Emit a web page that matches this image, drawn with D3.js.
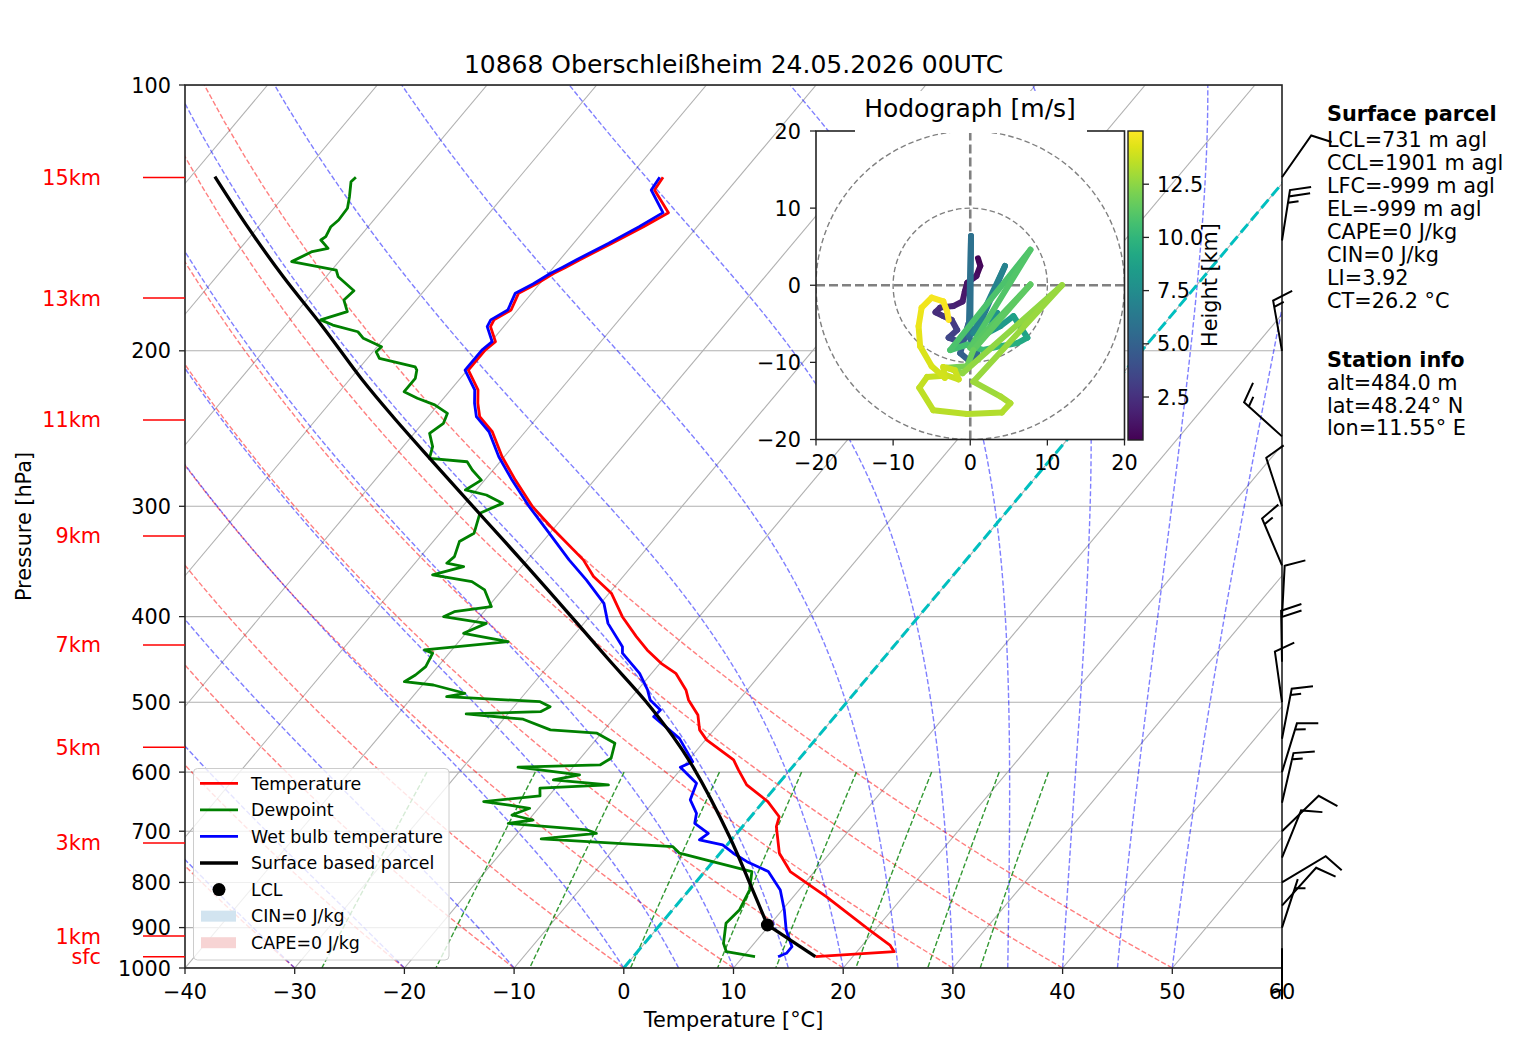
<!DOCTYPE html>
<html>
<head>
<meta charset="utf-8">
<script src="https://cdn.jsdelivr.net/npm/d3@7"></script>
<style>
  body { margin: 0; background: #fff; }
  svg { display: block; font-family: "DejaVu Sans", sans-serif; }
</style>
</head>
<body>
<script>
// ---- sounding values (pressure hPa, temperature °C) ----
const tempP = [971.0, 958.4, 941.8, 905.7, 830.3, 777.7, 741.3, 691.8, 674.1, 647.9, 620.4, 596.6, 581.3, 551.7, 537.5, 516.9, 497.1, 484.3, 463.7, 451.8, 436.3, 421.4, 400.1, 376.3, 360.3, 345.0, 316.4, 300.3, 280.2, 263.6, 247.0, 237.5, 229.3, 221.5, 210.3, 199.6, 195.3, 187.8, 184.5, 179.8, 172.1, 168.0, 163.4, 160.9, 157.8, 151.1, 144.7, 139.5, 131.5, 127.2];
const tempT = [16.6, 23.4, 22.5, 19.5, 13.0, 7.8, 5.4, 3.1, 2.6, 0.4, -2.8, -4.7, -5.9, -9.9, -11.3, -12.6, -14.6, -15.6, -17.8, -19.9, -22.2, -24.2, -27.0, -29.8, -32.7, -34.9, -40.4, -43.6, -47.2, -50.2, -53.0, -55.3, -56.5, -57.5, -59.9, -59.9, -59.6, -61.2, -61.4, -60.6, -61.2, -60.3, -59.5, -58.9, -58.2, -56.5, -54.9, -53.7, -56.7, -56.9];

const dewP = [971.0, 958.4, 937.6, 890.1, 859.7, 816.0, 777.7, 754.6, 741.3, 728.8, 714.3, 703.8, 697.7, 685.7, 679.8, 671.0, 659.4, 653.8, 647.9, 638.4, 625.7, 620.4, 612.4, 604.4, 592.4, 588.9, 578.7, 556.5, 542.1, 537.5, 522.7, 515.5, 512.5, 505.9, 499.3, 492.9, 488.5, 478.1, 474.0, 465.8, 455.8, 440.0, 436.3, 427.0, 417.8, 407.1, 400.1, 394.9, 389.8, 373.1, 365.1, 358.7, 351.1, 348.0, 342.1, 328.9, 321.8, 305.5, 297.7, 291.3, 287.5, 280.2, 272.9, 267.1, 264.7, 256.8, 248.0, 241.6, 235.4, 230.3, 226.3, 222.5, 214.9, 210.3, 208.5, 204.0, 200.5, 197.9, 193.6, 190.3, 187.0, 184.5, 180.6, 175.2, 171.0, 164.9, 162.0, 158.5, 154.4, 153.1, 149.8, 148.5, 144.7, 142.2, 137.9, 133.8, 128.7, 127.2];
const dewT = [11.1, 8.1, 7.2, 5.9, 6.1, 5.5, 4.3, -0.7, -3.7, -4.8, -17.4, -12.8, -13.9, -21.6, -19.6, -21.9, -20.8, -22.9, -25.5, -20.8, -21.4, -15.4, -20.8, -18.8, -25.0, -17.7, -17.2, -18.0, -20.4, -24.9, -28.2, -33.8, -27.2, -26.7, -28.0, -36.9, -35.5, -39.0, -41.9, -41.4, -41.1, -41.5, -42.5, -35.5, -40.2, -38.9, -43.3, -42.7, -39.7, -41.6, -43.4, -47.5, -45.3, -47.1, -46.9, -47.6, -46.9, -47.9, -46.6, -48.7, -51.0, -50.3, -51.9, -53.0, -56.7, -57.3, -58.6, -58.1, -58.5, -60.3, -62.4, -64.1, -64.1, -64.6, -65.0, -68.9, -69.7, -69.6, -71.9, -72.9, -75.7, -77.2, -75.4, -76.6, -76.4, -78.9, -79.6, -84.3, -83.2, -82.0, -83.3, -83.1, -83.4, -83.2, -83.3, -84.0, -85.0, -84.9];

const wetP = [971.0, 962.4, 946.0, 905.7, 859.7, 816.0, 777.7, 757.8, 741.3, 725.5, 716.1, 703.8, 685.7, 668.1, 645.0, 617.7, 592.4, 583.9, 549.4, 519.2, 510.2, 497.1, 484.3, 463.7, 440.0, 432.6, 407.1, 386.4, 363.5, 345.0, 319.2, 300.3, 280.2, 263.6, 247.0, 237.5, 229.3, 221.5, 210.3, 199.6, 195.3, 187.8, 184.5, 179.8, 172.1, 168.0, 163.4, 160.9, 157.8, 151.1, 144.7, 139.5, 131.5, 127.2];
const wetT = [13.2, 13.7, 13.7, 11.9, 10.2, 8.3, 5.8, 3.1, 1.2, -0.4, -2.9, -2.6, -4.6, -5.2, -6.8, -7.5, -10.2, -9.5, -12.5, -16.5, -16.4, -18.1, -19.1, -21.1, -24.2, -24.7, -27.8, -29.7, -33.1, -36.2, -40.5, -43.9, -47.5, -50.5, -53.3, -55.6, -56.8, -57.8, -60.2, -60.2, -59.9, -61.5, -61.7, -60.9, -61.5, -60.6, -59.8, -59.2, -58.5, -56.8, -55.3, -54.2, -57.0, -57.2];

const parcelP = [971.0, 893.9, 809.0, 710.1, 591.6, 547.0, 497.1, 447.9, 407.1, 351.1, 310.9, 265.9, 237.5, 215.8, 187.8, 164.9, 144.7, 127.0];
const parcelT = [16.6, 9.8, 5.4, -0.4, -9.1, -13.2, -18.6, -24.9, -30.6, -39.5, -46.9, -56.4, -63.2, -68.8, -76.5, -83.9, -91.0, -97.8];
const lclP = 893.9;
const lclT = 9.8;

// height markers on the left
const kmLabels = ["15km", "13km", "11km", "9km", "7km", "5km", "3km", "1km", "sfc"];
const kmP = [127.3, 174.3, 239.5, 324.1, 430.7, 562.2, 721.8, 920.0, 971.0];

// wind barbs (knots)
const barbP = [950, 900, 850, 800, 750, 700, 650, 600, 550, 500, 450, 400, 350, 300, 250, 200, 150, 127.2];
const barbDir = [180, 18, 42, 59, 22, 46, 13, 17, 11, 352, 359, 3, 337, 342, 312, 350, 9, 35];
const barbSpd = [5, 5, 10, 10, 10, 10, 15, 15, 15, 10, 20, 10, 15, 10, 15, 15, 25, 10];

// hodograph (m/s) coloured by height (km)
const hodoU = [1.0, 1.3, 0.8, -0.4, -0.7, -1.0, -2.2, -3.9, -4.5, -3.5, -2.4, -1.7, -2.8, -1.5, -0.6, -0.2, -1.3, 0.0, 0.9, -0.2, 0.1, 0.0, 1.3, 4.5, 0.4, 2.2, 3.5, 2.2, 3.9, 5.6, 7.4, 6.1, 3.9, 1.7, -0.4, -2.6, 7.8, 0.0, 7.8, 0.4, -0.4, -3.0, -1.0, 11.9, 0.4, 3.9, 5.2, 4.1, -0.4, -4.8, -6.6, -5.6, -3.0, -1.5, -2.0, -3.5, -3.3, -5.0, -6.5, -6.7, -6.3, -5.0, -3.5, -3.0, -2.8];
const hodoV = [3.5, 2.5, 1.2, 0.3, -0.8, -2.1, -2.7, -2.9, -3.5, -4.0, -4.5, -5.8, -6.8, -7.3, -6.2, -4.9, -8.8, -9.9, -8.8, -6.6, 6.4, -6.4, -4.9, 2.5, -6.2, -4.5, -3.6, -6.2, -5.3, -4.0, -6.8, -7.5, -7.9, -8.4, -7.7, -8.4, 4.6, -8.1, 0.1, -8.4, -10.5, -10.7, -11.4, 0.0, -12.5, -14.4, -15.3, -16.5, -16.7, -16.2, -13.3, -11.9, -11.7, -12.2, -11.0, -10.6, -12.0, -10.5, -7.9, -5.3, -2.9, -1.6, -2.1, -3.4, -4.5];
const hodoH = [0.48, 0.7, 0.9, 1.1, 1.3, 1.5, 1.8, 2.1, 2.3, 2.5, 2.8, 3.1, 3.4, 3.7, 4.0, 4.4, 4.8, 5.1, 5.4, 5.7, 5.8, 5.9, 6.2, 6.8, 7.0, 7.3, 7.6, 7.9, 8.2, 8.6, 9.0, 9.4, 9.8, 10.2, 10.5, 10.8, 11.0, 11.1, 11.3, 11.5, 11.9, 12.2, 12.5, 12.7, 12.8, 13.0, 13.2, 13.3, 13.4, 13.5, 13.6, 13.7, 13.75, 13.8, 13.85, 13.9, 13.95, 14.1, 14.3, 14.5, 14.65, 14.75, 14.85, 14.92, 15.0];

// ticks and labels
const tempTicks = [-40, -30, -20, -10, 0, 10, 20, 30, 40, 50, 60];
const pressTicks = [100, 200, 300, 400, 500, 600, 700, 800, 900, 1000];
const hodoTicks = [-20, -10, 0, 10, 20];
const cbarTicks = [2.5, 5.0, 7.5, 10.0, 12.5];
const legendLabels = ["Temperature", "Dewpoint", "Wet bulb temperature", "Surface based parcel", "LCL", "CIN=0 J/kg", "CAPE=0 J/kg"];
const parcelLines = ["LCL=731 m agl", "CCL=1901 m agl", "LFC=-999 m agl", "EL=-999 m agl", "CAPE=0 J/kg", "CIN=0 J/kg", "LI=3.92", "CT=26.2 °C"];
const stationLines = ["alt=484.0 m", "lat=48.24° N", "lon=11.55° E"];
const titleText = "10868 Oberschleißheim 24.05.2026 00UTC";

// ---- layout ----
const W = 1517, H = 1054;
const pLeft = 185, pRight = 1282, pTop = 85, pBottom = 968;
const SKEW = 0.839;
const FS = 20.8;          // normal text
const minus = v => (v < 0 ? "\u2212" + Math.abs(v) : String(v));

const x = d3.scaleLinear().domain([-40, 60]).range([pLeft, pRight]);
const y = d3.scaleLog().domain([1000, 100]).range([pBottom, pTop]);
const sx = (T, p) => x(T) + SKEW * (pBottom - y(p));

const svg = d3.select("body").append("svg")
    .attr("width", W)
    .attr("height", H)
    .attr("viewBox", [0, 0, W, H]);

svg.append("rect").attr("width", W).attr("height", H).attr("fill", "white");

const defs = svg.append("defs");
defs.append("clipPath").attr("id", "skewClip")
    .append("rect").attr("x", pLeft).attr("y", pTop).attr("width", pRight - pLeft).attr("height", pBottom - pTop);

const plot = svg.append("g").attr("clip-path", "url(#skewClip)");

// grid: isobars and skewed isotherms
plot.selectAll(".isobar")
    .data(pressTicks)
    .join("line")
    .attr("x1", pLeft).attr("x2", pRight)
    .attr("y1", d => y(d)).attr("y2", d => y(d))
    .attr("stroke", "#b0b0b0").attr("stroke-width", 1.1);

plot.selectAll(".isotherm")
    .data(d3.range(-100, 61, 10))
    .join("line")
    .attr("x1", d => sx(d, 1000)).attr("y1", y(1000))
    .attr("x2", d => sx(d, 100)).attr("y2", y(100))
    .attr("stroke", "#b0b0b0").attr("stroke-width", 1.1);

// dry adiabats, moist adiabats, mixing ratio lines (MetPy defaults)
const kappa = 0.28571;
const pLevels = d3.range(1000, 99, -10);
const line = d3.line().x(d => sx(d[1], d[0])).y(d => y(d[0]));

d3.range(-40, 51, 10).forEach(t0 => {
    const pts = pLevels.map(p => [p, (t0 + 273.15) * Math.pow(p / 1000, kappa) - 273.15]);
    plot.append("path").attr("d", line(pts))
        .attr("fill", "none").attr("stroke", "rgba(255,0,0,0.5)")
        .attr("stroke-width", 1.4).attr("stroke-dasharray", "5.2,2.3");
});

function dTdp(p, T) {
    const es = 6.112 * Math.exp(17.67 * (T - 273.15) / (T - 29.65));
    const rs = 0.62196 * es / (p - es);
    return (287.04749 * T + 2.501e6 * rs) /
        (1004.6 + 2.501e6 * 2.501e6 * rs * 0.62196 / (287.04749 * T * T)) / p;
}
function moistLine(t0) {
    let T = t0 + 273.15, p = 1000;
    const dp = -5;
    const pts = [[p, t0]];
    while (p > 100) {
        const k1 = dTdp(p, T);
        const k2 = dTdp(p + dp / 2, T + dp / 2 * k1);
        const k3 = dTdp(p + dp / 2, T + dp / 2 * k2);
        const k4 = dTdp(p + dp, T + dp * k3);
        T += dp / 6 * (k1 + 2 * k2 + 2 * k3 + k4);
        p += dp;
        pts.push([p, T - 273.15]);
    }
    return pts;
}
[-40, -30, -20, -10].concat(d3.range(0, 51, 5)).forEach(t0 => {
    plot.append("path").attr("d", line(moistLine(t0)))
        .attr("fill", "none").attr("stroke", "rgba(0,0,255,0.5)")
        .attr("stroke-width", 1.4).attr("stroke-dasharray", "5.2,2.3");
});

[0.0004, 0.001, 0.002, 0.004, 0.007, 0.01, 0.016, 0.024, 0.032].forEach(w => {
    const pts = d3.range(600, 1001, 10).map(p => {
        const e = p * w / (0.62196 + w);
        const val = Math.log(e / 6.112);
        return [p, 243.5 * val / (17.67 - val)];
    });
    plot.append("path").attr("d", line(pts))
        .attr("fill", "none").attr("stroke", "rgba(0,128,0,0.8)")
        .attr("stroke-width", 1.4).attr("stroke-dasharray", "5.2,2.3");
});

// 0 °C isotherm
plot.append("line")
    .attr("x1", sx(0, 1000)).attr("y1", y(1000))
    .attr("x2", sx(0, 100)).attr("y2", y(100))
    .attr("stroke", "#00bfbf").attr("stroke-width", 3)
    .attr("stroke-dasharray", "11,5");

// profiles
const profile = (P, T) => P.map((p, i) => [p, T[i]]);
plot.append("path").attr("d", line(profile(tempP, tempT)))
    .attr("fill", "none").attr("stroke", "#ff0000").attr("stroke-width", 2.8).attr("stroke-linejoin", "round");
plot.append("path").attr("d", line(profile(dewP, dewT)))
    .attr("fill", "none").attr("stroke", "#008000").attr("stroke-width", 2.8).attr("stroke-linejoin", "round");
plot.append("path").attr("d", line(profile(wetP, wetT)))
    .attr("fill", "none").attr("stroke", "#0000ff").attr("stroke-width", 2.8).attr("stroke-linejoin", "round");

const parcelPts = profile(parcelP, parcelT);
plot.append("path").attr("d", line(parcelPts.slice(0, 2)))
    .attr("fill", "none").attr("stroke", "black").attr("stroke-width", 3.3);
plot.append("path").attr("d", line.curve(d3.curveCatmullRom)(parcelPts.slice(1)))
    .attr("fill", "none").attr("stroke", "black").attr("stroke-width", 3.3);
line.curve(d3.curveLinear);

plot.append("circle")
    .attr("cx", sx(lclT, lclP)).attr("cy", y(lclP)).attr("r", 6.5)
    .attr("fill", "black");

// frame
svg.append("rect")
    .attr("x", pLeft).attr("y", pTop).attr("width", pRight - pLeft).attr("height", pBottom - pTop)
    .attr("fill", "none").attr("stroke", "#222").attr("stroke-width", 1.6);

// axes ticks and labels
const axisG = svg.append("g").attr("font-size", FS).attr("fill", "black");
tempTicks.forEach(t => {
    axisG.append("line").attr("x1", x(t)).attr("x2", x(t)).attr("y1", pBottom).attr("y2", pBottom + 6)
        .attr("stroke", "#222").attr("stroke-width", 1.3);
    axisG.append("text").attr("x", x(t)).attr("y", 999).attr("text-anchor", "middle").text(minus(t));
});
pressTicks.forEach(p => {
    axisG.append("line").attr("x1", pLeft - 6).attr("x2", pLeft).attr("y1", y(p)).attr("y2", y(p))
        .attr("stroke", "#222").attr("stroke-width", 1.3);
    axisG.append("text").attr("x", 171).attr("y", y(p) + 7.5).attr("text-anchor", "end").text(p);
});
axisG.append("text").attr("x", (pLeft + pRight) / 2).attr("y", 1027).attr("text-anchor", "middle")
    .text("Temperature [°C]");
axisG.append("text").attr("transform", `translate(31,${(pTop + pBottom) / 2}) rotate(-90)`)
    .attr("text-anchor", "middle").text("Pressure [hPa]");
svg.append("text").attr("x", (pLeft + pRight) / 2).attr("y", 73).attr("text-anchor", "middle")
    .attr("font-size", 25).text(titleText);

// height markers
kmP.forEach((p, i) => {
    svg.append("line").attr("x1", 143).attr("x2", pLeft).attr("y1", y(p)).attr("y2", y(p))
        .attr("stroke", "red").attr("stroke-width", 1.5);
    svg.append("text").attr("x", 101).attr("y", y(p) + 7.5).attr("text-anchor", "end")
        .attr("font-size", FS).attr("fill", "red").text(kmLabels[i]);
});

// legend
const leg = svg.append("g");
leg.append("rect").attr("x", 193.5).attr("y", 768.5).attr("width", 255.5).attr("height", 191.5).attr("rx", 4)
    .attr("fill", "white").attr("fill-opacity", 0.8).attr("stroke", "#cccccc");
const legendColors = ["#ff0000", "#008000", "#0000ff", "black"];
legendLabels.forEach((label, i) => {
    const cy = 783.3 + i * 26.57;
    if (i < 4) {
        leg.append("line").attr("x1", 200).attr("x2", 238).attr("y1", cy).attr("y2", cy)
            .attr("stroke", legendColors[i]).attr("stroke-width", i === 3 ? 3.3 : 2.8);
    } else if (i === 4) {
        leg.append("circle").attr("cx", 219).attr("cy", cy).attr("r", 6.5).attr("fill", "black");
    } else {
        leg.append("rect").attr("x", 201).attr("y", cy - 5.5).attr("width", 35).attr("height", 11)
            .attr("fill", i === 5 ? "#d2e4f0" : "#f7d4d4");
    }
    leg.append("text").attr("x", 251).attr("y", cy + 6.2).attr("font-size", 17.4).text(label);
});

// ---- hodograph inset ----
const hx = d3.scaleLinear().domain([-20, 20]).range([816, 1124.5]);
const hy = d3.scaleLinear().domain([-20, 20]).range([439.5, 131]);
const hodo = svg.append("g");
defs.append("clipPath").attr("id", "hodoClip")
    .append("rect").attr("x", 816).attr("y", 131).attr("width", 308.5).attr("height", 308.5);
hodo.append("rect").attr("x", 816).attr("y", 131).attr("width", 308.5).attr("height", 308.5).attr("fill", "white");

const hg = hodo.append("g").attr("clip-path", "url(#hodoClip)");
[10, 20].forEach(r => {
    hg.append("circle").attr("cx", hx(0)).attr("cy", hy(0)).attr("r", hx(r) - hx(0))
        .attr("fill", "none").attr("stroke", "gray").attr("stroke-width", 1.4).attr("stroke-dasharray", "5.5,3");
});
hg.append("line").attr("x1", hx(0)).attr("x2", hx(0)).attr("y1", hy(-20)).attr("y2", hy(20))
    .attr("stroke", "gray").attr("stroke-width", 2.6).attr("stroke-dasharray", "9,4");
hg.append("line").attr("x1", hx(-20)).attr("x2", hx(20)).attr("y1", hy(0)).attr("y2", hy(0))
    .attr("stroke", "gray").attr("stroke-width", 2.6).attr("stroke-dasharray", "9,4");

const hExtent = d3.extent(hodoH);
const hColor = d3.scaleSequential(d3.interpolateViridis).domain(hExtent);
const segs = d3.range(hodoU.length - 1).map(i => ({
    x1: hx(hodoU[i]), y1: hy(hodoV[i]), x2: hx(hodoU[i + 1]), y2: hy(hodoV[i + 1]),
    h: (hodoH[i] + hodoH[i + 1]) / 2
}));
hg.selectAll(".seg")
    .data(segs)
    .join("line")
    .attr("x1", d => d.x1).attr("y1", d => d.y1).attr("x2", d => d.x2).attr("y2", d => d.y2)
    .attr("stroke", d => hColor(d.h)).attr("stroke-width", 6).attr("stroke-linecap", "round");

hodo.append("rect").attr("x", 816).attr("y", 131).attr("width", 308.5).attr("height", 308.5)
    .attr("fill", "none").attr("stroke", "#222").attr("stroke-width", 1.6);

const hAxis = hodo.append("g").attr("font-size", FS);
hodoTicks.forEach(t => {
    hAxis.append("line").attr("x1", hx(t)).attr("x2", hx(t)).attr("y1", 439.5).attr("y2", 445.5)
        .attr("stroke", "#222").attr("stroke-width", 1.3);
    hAxis.append("text").attr("x", hx(t)).attr("y", 470).attr("text-anchor", "middle").text(minus(t));
    hAxis.append("line").attr("x1", 810).attr("x2", 816).attr("y1", hy(t)).attr("y2", hy(t))
        .attr("stroke", "#222").attr("stroke-width", 1.3);
    hAxis.append("text").attr("x", 801).attr("y", hy(t) + 7.5).attr("text-anchor", "end").text(minus(t));
});

// title with white box covering the spine
hodo.append("rect").attr("x", 855).attr("y", 91).attr("width", 232).attr("height", 42).attr("fill", "white");
hodo.append("text").attr("x", 970).attr("y", 117).attr("text-anchor", "middle").attr("font-size", 25)
    .text("Hodograph [m/s]");

// colorbar
const cb = d3.scaleLinear().domain(hExtent).range([440, 131]);
const grad = defs.append("linearGradient").attr("id", "viridisGrad")
    .attr("x1", 0).attr("x2", 0).attr("y1", 1).attr("y2", 0);
d3.range(0, 1.001, 0.05).forEach(t => {
    grad.append("stop").attr("offset", t).attr("stop-color", d3.interpolateViridis(t));
});
hodo.append("rect").attr("x", 1128).attr("y", 131).attr("width", 15).attr("height", 309)
    .attr("fill", "url(#viridisGrad)").attr("stroke", "#222").attr("stroke-width", 1.4);
cbarTicks.forEach(t => {
    hAxis.append("line").attr("x1", 1143).attr("x2", 1149).attr("y1", cb(t)).attr("y2", cb(t))
        .attr("stroke", "#222").attr("stroke-width", 1.3);
    hAxis.append("text").attr("x", 1157).attr("y", cb(t) + 7.5).text(t.toFixed(1));
});
hAxis.append("text").attr("transform", "translate(1217,285) rotate(-90)").attr("text-anchor", "middle")
    .text("Height [km]");

// ---- wind barbs at the right edge ----
function barbPath(bx, by, dirDeg, spd) {
    const L = 51, spacing = 0.125 * L, fh = 0.4 * L, fw = 0.25 * L;
    const rad = dirDeg * Math.PI / 180;
    const u = -spd * Math.sin(rad), v = -spd * Math.cos(rad);
    let mag = 5 * Math.floor(spd / 5 + 0.5);
    const nflag = Math.floor(mag / 50); mag -= nflag * 50;
    const nbarb = Math.floor(mag / 10); mag -= nbarb * 10;
    const half = mag >= 5;
    const pts = [[0, 0]];
    let off = L;
    for (let i = 0; i < nflag; i++) {
        pts.push([0, off], [fh, off - fw / 2], [0, off - fw]);
        off -= fw + spacing;
    }
    for (let i = 0; i < nbarb; i++) {
        pts.push([0, off], [fh, off + fw / 2], [0, off]);
        off -= spacing;
    }
    if (half) {
        if (off === L) { pts.push([0, off]); off -= 1.5 * spacing; }
        pts.push([0, off], [fh / 2, off + fw / 4], [0, off]);
    }
    const th = Math.atan2(v, u) + Math.PI / 2;
    const c = Math.cos(th), s = Math.sin(th);
    return d3.line()(pts.map(([px, py]) => [bx + px * c - py * s, by - (px * s + py * c)]));
}
svg.append("g").selectAll("path")
    .data(barbP.map((p, i) => ({ p, dir: barbDir[i], spd: barbSpd[i] })))
    .join("path")
    .attr("d", d => barbPath(pRight, y(d.p), d.dir, d.spd))
    .attr("fill", "none").attr("stroke", "black").attr("stroke-width", 2).attr("stroke-linejoin", "miter");

// ---- info text ----
const info = svg.append("g").attr("font-size", FS);
info.append("text").attr("x", 1327).attr("y", 121).attr("font-weight", "bold").text("Surface parcel");
parcelLines.forEach((t, i) => info.append("text").attr("x", 1327).attr("y", 147 + i * 23).text(t));
info.append("text").attr("x", 1327).attr("y", 367).attr("font-weight", "bold").text("Station info");
stationLines.forEach((t, i) => info.append("text").attr("x", 1327).attr("y", 390 + i * 22.6).text(t));
</script>
</body>
</html>
